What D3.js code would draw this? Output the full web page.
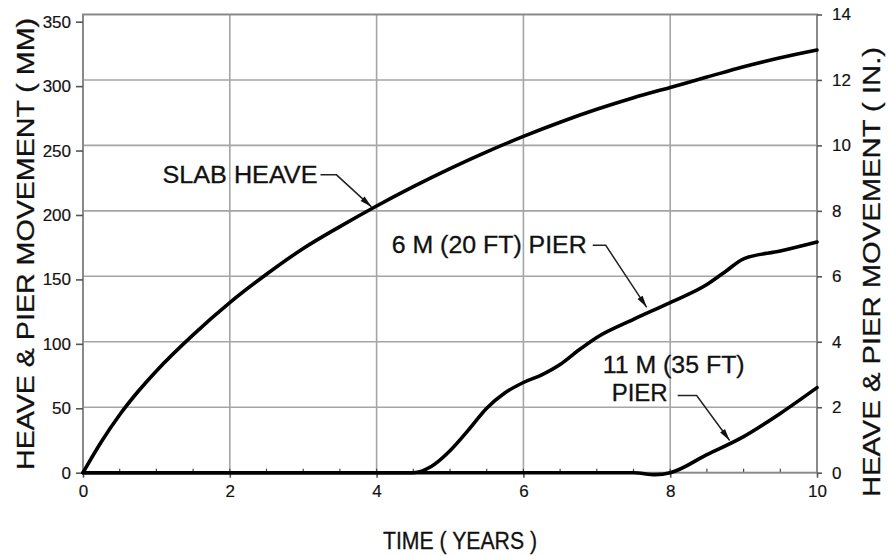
<!DOCTYPE html>
<html><head><meta charset="utf-8">
<script src="https://cdn.jsdelivr.net/npm/d3@7"></script>
<style>body{margin:0;background:#fff}svg{display:block}text{font-family:"Liberation Sans",Arial,sans-serif;fill:#111}</style>
</head><body><svg id="c" width="889" height="556"></svg>
<script>
// ---- data ----
const xTicks = [0, 2, 4, 6, 8, 10];
const mmTicks = [0, 50, 100, 150, 200, 250, 300, 350];
const inTicks = [0, 2, 4, 6, 8, 10, 12, 14];
const slabT  = [0, 0.25, 0.5, 0.75, 1, 1.5, 2, 2.5, 3, 3.5, 4, 4.5, 5, 5.5, 6, 6.5, 7, 7.5, 8, 8.5, 9, 9.5, 10];
const slabMM = [0, 24, 45, 63, 79, 107, 132, 154, 174, 191, 207, 222, 236, 249, 261, 272, 282, 291, 299, 307, 315, 322, 328];
const pier6T  = [0, 4.5, 4.75, 5, 5.25, 5.5, 5.75, 6, 6.25, 6.5, 6.75, 7, 7.5, 8, 8.5, 8.75, 9, 9.5, 10];
const pier6MM = [0, 0, 5, 17, 33, 50, 62, 70, 76, 84, 95, 105, 119, 132, 146, 156, 166, 172, 179];
const pier11T  = [0, 7.5, 7.8, 8, 8.5, 9, 9.5, 10];
const pier11MM = [0, 0, -1.5, 0, 14, 28, 46, 66];
const labels = [
  {lines:["SLAB HEAVE"], t:3.93, series:"slab"},
  {lines:["6 M (20 FT) PIER"], t:7.68, series:"p6"},
  {lines:["11 M (35 FT)", "PIER"], t:8.81, series:"p11"}
];
const MM_PER_IN = 25.4;

// ---- layout ----
const svg = d3.select("#c");
const L = 83, R = 817, B = 472.7;
const x = d3.scaleLinear().domain([0, 10]).range([L, R]);
const yMM = d3.scaleLinear().domain([0, 350]).range([B, B - 350 * 1.2886]);
const yIn = d3.scaleLinear().domain([0, 14]).range([B, yMM(14 * MM_PER_IN)]);
const yTop = yIn(14);

// grid
const g = svg.append("g");
g.selectAll(".hg").data(inTicks.filter(d => d > 0 && d < 14)).join("line")
  .attr("x1", L).attr("x2", R).attr("y1", d => yIn(d)).attr("y2", d => yIn(d))
  .attr("stroke", "#a5a5a5").attr("stroke-width", 1.6);
g.selectAll(".vg").data(xTicks.filter(d => d > 0 && d < 10)).join("line")
  .attr("x1", d => x(d)).attr("x2", d => x(d)).attr("y1", yTop).attr("y2", B)
  .attr("stroke", "#a5a5a5").attr("stroke-width", 1.6);
// minor ticks on bottom
g.selectAll(".mt").data(d3.range(0.5, 10, 0.5)).join("line")
  .attr("x1", d => x(d)).attr("x2", d => x(d)).attr("y1", B).attr("y2", B - 4)
  .attr("stroke", "#444").attr("stroke-width", 1.2);
// frame
svg.append("rect").attr("x", L).attr("y", yTop).attr("width", R - L).attr("height", B - yTop)
  .attr("fill", "none").attr("stroke", "#8a8a8a").attr("stroke-width", 2);

// axes
function styleAxis(sel) {
  sel.select(".domain").remove();
  sel.selectAll(".tick line").attr("stroke", "#555").attr("stroke-width", 1.6);
  sel.selectAll(".tick text").style("font-size", "17px").attr("fill", "#1a1a1a")
    .attr("stroke", "#1a1a1a").attr("stroke-width", 0.2);
}
svg.append("g").attr("transform", `translate(${L},0)`)
  .call(d3.axisLeft(yMM).tickValues(mmTicks).tickSize(7).tickPadding(5).tickFormat(d3.format("d")))
  .call(styleAxis);
svg.append("g").attr("transform", `translate(${R},0)`)
  .call(d3.axisRight(yIn).tickValues(inTicks).tickSize(5).tickPadding(10).tickFormat(d3.format("d")))
  .call(styleAxis);
svg.append("g").attr("transform", `translate(0,${B})`)
  .call(d3.axisBottom(x).tickValues(xTicks).tickSize(5).tickPadding(7).tickFormat(d3.format("d")))
  .call(styleAxis);

// curves
const line = d3.line().x(d => x(d[0])).y(d => yMM(d[1])).curve(d3.curveMonotoneX);
const series = {
  slab: d3.zip(slabT, slabMM),
  p6: d3.zip(pier6T, pier6MM),
  p11: d3.zip(pier11T, pier11MM)
};
Object.values(series).forEach(s => {
  svg.append("path").datum(s).attr("d", line).attr("fill", "none")
    .attr("stroke", "#000").attr("stroke-width", 3.6).attr("stroke-linejoin", "round").attr("stroke-linecap", "round");
});

// annotations
function valAt(s, t) {
  const ts = s.map(d => d[0]), vs = s.map(d => d[1]);
  const i = d3.bisectRight(ts, t) - 1;
  const f = (t - ts[i]) / (ts[i + 1] - ts[i]);
  return vs[i] + f * (vs[i + 1] - vs[i]);
}
// offsets (px) relative to the arrow tip; text width targets
const annoOff = {
  slab: {ls: -51, ex: -35, ey: -32, tipDy: -2, text: [{dx: -54, dy: -24, a: "end", w: 155}]},
  p6:   {ls: -54, ex: -41, ey: -62, tipDy: -6, text: [{dx: -60, dy: -54, a: "end", w: 195}]},
  p11:  {ls: -52, ex: -33, ey: -45, tipDy: -3, text: [{dx: -127, dy: -67, a: "start", w: 142}, {dx: -118, dy: -39, a: "start", w: 56}]}
};
labels.forEach(lb => {
  const o = annoOff[lb.series];
  const tx = x(lb.t), ty = yMM(valAt(series[lb.series], lb.t)) + o.tipDy;
  const ex = tx + o.ex, ey = ty + o.ey;
  svg.append("path").attr("d", `M${tx + o.ls},${ey} L${ex},${ey} L${tx},${ty}`)
    .attr("fill", "none").attr("stroke", "#222").attr("stroke-width", 1.5);
  const ang = Math.atan2(ty - ey, tx - ex);
  const len = 12, w = 3;
  const bx = tx - len * Math.cos(ang), by = ty - len * Math.sin(ang);
  svg.append("path").attr("d",
    `M${tx},${ty} L${bx + w * Math.sin(ang)},${by - w * Math.cos(ang)} L${bx - w * Math.sin(ang)},${by + w * Math.cos(ang)} Z`)
    .attr("fill", "#111");
  lb.lines.forEach((s, i) => {
    const p = o.text[i];
    svg.append("text").attr("x", tx + p.dx).attr("y", ty + p.dy).attr("text-anchor", p.a)
      .attr("textLength", p.w).attr("lengthAdjust", "spacingAndGlyphs")
      .attr("stroke", "#111").attr("stroke-width", 0.3)
      .style("font-size", "23px").text(s);
  });
});

// axis titles
function title(sel, len) {
  sel.attr("text-anchor", "middle").attr("textLength", len).attr("lengthAdjust", "spacingAndGlyphs")
    .attr("stroke", "#111").attr("stroke-width", 0.3).style("font-size", "23px");
}
svg.append("text").attr("transform", `translate(34,${244}) rotate(-90)`)
  .call(title, 452).text("HEAVE & PIER MOVEMENT ( MM)");
svg.append("text").attr("transform", `translate(880,${272}) rotate(-90)`)
  .call(title, 450).text("HEAVE & PIER MOVEMENT ( IN.)");
svg.append("text").attr("x", 460).attr("y", 549)
  .call(title, 154).text("TIME ( YEARS )");
</script></body></html>
